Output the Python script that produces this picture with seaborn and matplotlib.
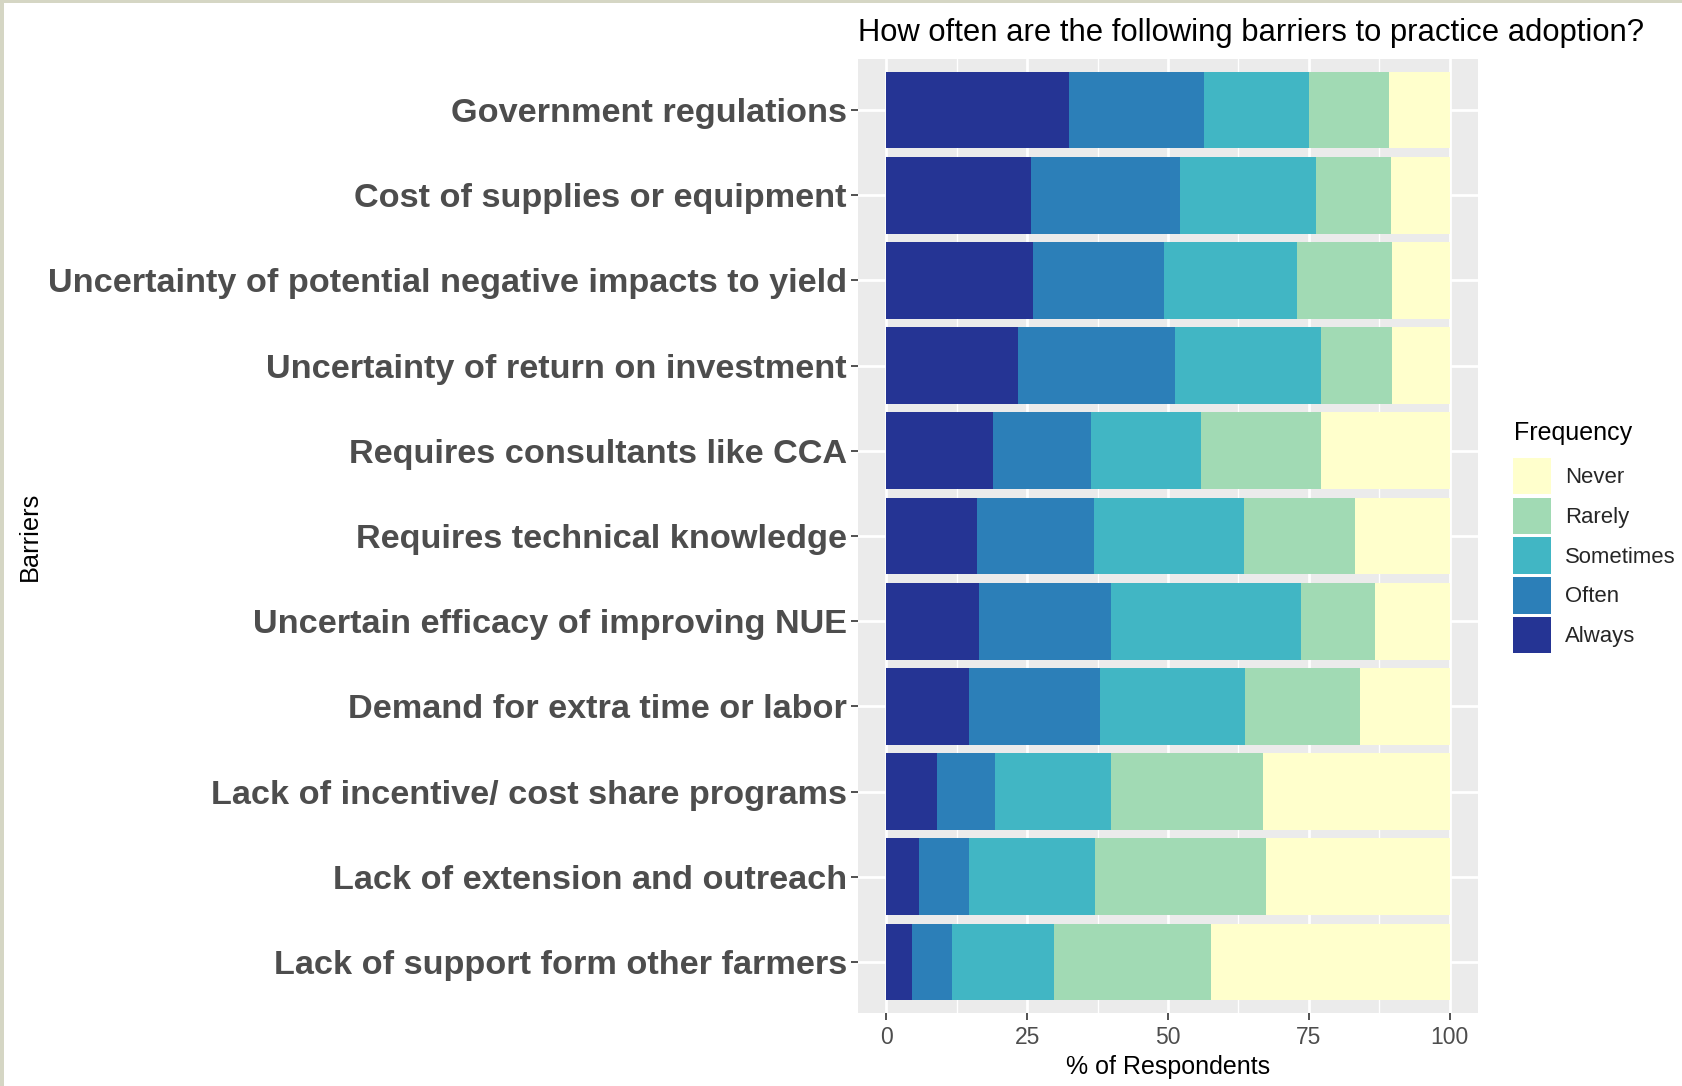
import numpy as np
import pandas as pd
import matplotlib
matplotlib.use("Agg")
import matplotlib.pyplot as plt
from matplotlib.patches import Patch, Rectangle
import seaborn as sns

barriers = [
    "Government regulations",
    "Cost of supplies or equipment",
    "Uncertainty of potential negative impacts to yield",
    "Uncertainty of return on investment",
    "Requires consultants like CCA",
    "Requires technical knowledge",
    "Uncertain efficacy of improving NUE",
    "Demand for extra time or labor",
    "Lack of incentive/ cost share programs",
    "Lack of extension and outreach",
    "Lack of support form other farmers",
]
always    = [32.5, 25.7, 26.0, 23.3, 18.9, 16.2, 16.5, 14.7,  9.1,  5.8,  4.6]
often     = [23.8, 26.4, 23.3, 27.9, 17.5, 20.6, 23.3, 23.3, 10.2,  8.9,  7.0]
sometimes = [18.8, 24.2, 23.6, 26.0, 19.4, 26.6, 33.8, 25.7, 20.5, 22.4, 18.1]
rarely    = [14.1, 13.2, 16.8, 12.5, 21.4, 19.7, 13.1, 20.3, 27.0, 30.3, 27.9]
never     = [10.8, 10.5, 10.3, 10.3, 22.8, 16.9, 13.3, 16.0, 33.2, 32.6, 42.4]

levels = ["Always", "Often", "Sometimes", "Rarely", "Never"]
colors = {"Always": "#253494", "Often": "#2c7fb8", "Sometimes": "#41b6c4",
          "Rarely": "#a1dab4", "Never": "#ffffcc"}

df = pd.DataFrame({"Barrier": barriers, "Always": always, "Often": often,
                   "Sometimes": sometimes, "Rarely": rarely, "Never": never})
cum = df[levels].cumsum(axis=1)
cum["Barrier"] = df["Barrier"]

sns.set_theme(style="white")
plt.rcParams["font.family"] = ["Liberation Sans", "DejaVu Sans"]

fig = plt.figure(figsize=(16.82, 10.86), dpi=100)
ax = fig.add_axes([858/1682, 1-1013/1086, (1478-858)/1682, (1013-59)/1086])
ax.set_facecolor("#ebebeb")

# draw stacked bars: longest cumulative first
for lev in reversed(levels):
    sns.barplot(data=cum, x=lev, y="Barrier", order=barriers, orient="h",
                color=colors[lev], saturation=1, width=0.9, ax=ax,
                edgecolor="none", linewidth=0, zorder=3)

ax.set_xlim(-5, 105)
ax.set_ylim(len(barriers) - 1 + 0.6, -0.6)
ax.set_xticks([0, 25, 50, 75, 100])
ax.set_xticklabels(["0", "25", "50", "75", "100"])
ax.set_xticks([12.5, 37.5, 62.5, 87.5], minor=True)
ax.grid(True, which="major", color="white", linewidth=2.0, zorder=0)
ax.grid(True, which="minor", axis="x", color="white", linewidth=1.0, zorder=0)
ax.set_axisbelow(True)
for s in ax.spines.values():
    s.set_visible(False)

ax.tick_params(axis="x", which="major", length=5, width=1.2, color="#333333",
               labelsize=16.5, labelcolor="#4d4d4d", pad=4, bottom=True)
ax.tick_params(axis="x", which="minor", length=0)
ax.tick_params(axis="y", length=5, width=1.2, color="#333333", labelsize=24.7,
               labelcolor="#4d4d4d", pad=3, left=True)
for lab in ax.get_yticklabels():
    lab.set_fontweight("bold")

ax.set_xlabel("% of Respondents", fontsize=18, color="black", labelpad=5)
ax.set_ylabel("")
fig.text(30/1682, 1-536/1086, "Barriers", rotation=90, fontsize=18.3,
         ha="center", va="center", color="black")

fig.text(858/1682, 1-33/1086, "How often are the following barriers to practice adoption?",
         fontsize=22.3, ha="left", va="center", color="black")

# legend title as separate text for exact spacing
fig.text(1514/1682, 1-433/1086, "Frequency", fontsize=18, ha="left",
         va="center", color="black")
handles = [Patch(facecolor=colors[l], edgecolor="none", label=l)
           for l in ["Never", "Rarely", "Sometimes", "Often", "Always"]]
leg = fig.legend(handles=handles, loc="upper left",
                 bbox_to_anchor=(1513/1682, 1-458/1086), frameon=False,
                 fontsize=15.9, handlelength=1.70,
                 handleheight=2.165, labelspacing=0.145, handletextpad=0.65,
                 borderpad=0, borderaxespad=0)

fig.patches.append(Rectangle((0, 0), 4/1682, 1, transform=fig.transFigure,
                             facecolor="#d5d6c4", edgecolor="none"))
fig.patches.append(Rectangle((0, 1-3/1086), 1, 3/1086, transform=fig.transFigure,
                             facecolor="#d5d6c4", edgecolor="none"))

fig.savefig("out.png", dpi=100)
